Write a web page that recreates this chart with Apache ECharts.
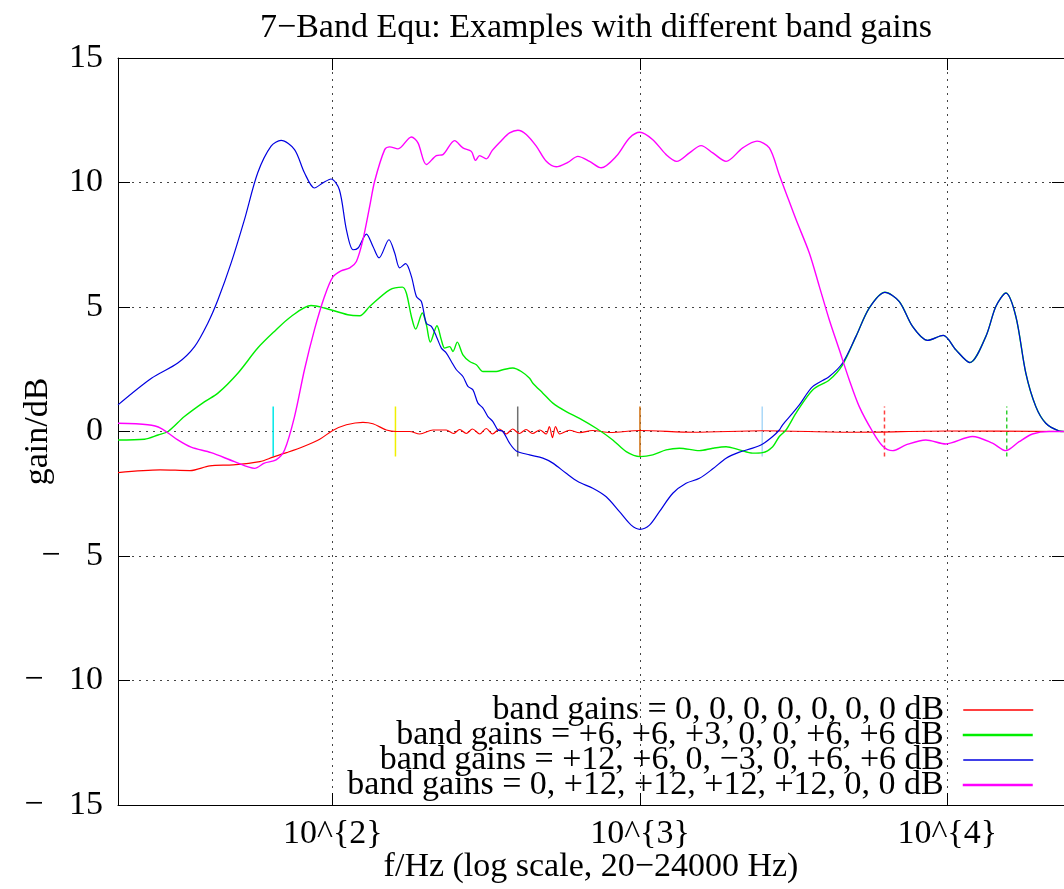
<!DOCTYPE html>
<html>
<head>
<meta charset="utf-8">
<script src="https://cdn.jsdelivr.net/npm/echarts@6/dist/echarts.min.js"></script>
<style>
html,body{margin:0;padding:0;background:#fff;}
#chart{width:1064px;height:889px;}
</style>
</head>
<body>
<div id="chart"></div>
<script>
// ---- data (frequency in Hz, gain in dB) ----
const seriesNames = [
  'band gains = 0, 0, 0, 0, 0, 0, 0 dB',
  'band gains = +6, +6, +3, 0, 0, +6, +6 dB',
  'band gains = +12, +6, 0, \u22123, 0, +6, +6 dB',
  'band gains = 0, +12, +12, +12, +12, 0, 0 dB'
];
const flatGains = [[20,-1.65],[27.4,-1.54],[34.3,-1.57],[39.8,-1.38],[47.4,-1.34],[57.9,-1.21],[63.9,-1.03],[70.7,-0.85],[80,-0.61],[90.7,-0.31],[100,0.04],[110.8,0.27],[125.4,0.37],[135.2,0.31],[149.5,0.06],[161.1,0],[178,0],[191.8,-0.1],[212,0.06],[234,0.06],[247,-0.08],[259,0.08],[272,-0.08],[285,0.1],[301,-0.1],[316,0.12],[331,-0.1],[349,0.1],[367,-0.1],[385,0.1],[405,-0.08],[426,0.08],[447,-0.08],[472,0.06],[495,-0.1],[507,0.2],[519,-0.25],[531,0.2],[548,-0.1],[590,0.05],[636,-0.05],[700,0.04],[800,-0.04],[1000,0.04],[1500,-0.03],[2500,0.03],[5000,-0.03],[10000,0.02],[24000,0]];
const bassGains = [[20,-0.34],[24.4,-0.31],[27,-0.14],[29.1,0],[32.9,0.6],[38.3,1.2],[42.3,1.54],[49.1,2.34],[57,3.35],[64.6,4.02],[73.2,4.62],[85,5.06],[94,4.96],[111.9,4.69],[122.4,4.65],[131.9,5.02],[153.2,5.69],[168.5,5.8],[173.6,5.56],[180.3,4.62],[186.2,4.11],[195.7,4.76],[201.7,4.29],[207.8,3.59],[218.4,4.25],[225.7,3.68],[231.3,3.35],[240.2,3.41],[246.1,3.21],[254.4,3.59],[265.3,3.08],[279,2.81],[293.4,2.68],[308.3,2.41],[324.1,2.41],[340.6,2.41],[357.9,2.48],[385.7,2.55],[410.9,2.41],[437.2,2.14],[448.2,1.94],[483,1.54],[520.6,1.14],[575.4,0.8],[635.7,0.53],[720.5,0.13],[815.6,-0.34],[902,-0.81],[1000,-1.01],[1101,-0.94],[1217,-0.74],[1344,-0.67],[1562,-0.77],[1726,-0.67],[1907,-0.61],[2107,-0.74],[2327,-0.87],[2508,-0.85],[2704,-0.61],[2842,-0.2],[2988,0.06],[3221,0.74],[3647,1.67],[4132,2.07],[4566,2.68],[5048,3.82],[5577,4.96],[6271,5.59],[6982,5.22],[7713,4.22],[8628,3.66],[9705,3.86],[10674,3.28],[11852,2.77],[13362,3.82],[14400,5.02],[15520,5.56],[16728,4.62],[18030,2.34],[19430,1.0],[20940,0.33],[23130,0.02],[24000,0]];
const lowBoostGains = [[20,1.07],[25.7,2.14],[31.3,2.75],[35.5,3.41],[39.2,4.35],[42.3,5.29],[46.7,6.77],[51.6,8.51],[57,10.39],[63,11.46],[67.9,11.69],[75.1,11.32],[80.9,10.39],[87.2,9.78],[92.8,9.98],[98.7,10.14],[105.1,9.71],[110.8,8.1],[116.4,7.3],[120.9,7.37],[128.7,7.93],[135.2,7.43],[141.5,6.97],[152.4,7.7],[159.1,7.17],[165.2,6.57],[172.7,6.74],[180.3,6.23],[187.2,5.42],[194.3,5.22],[201.7,4.35],[209.4,4.22],[217.4,3.82],[225.7,3.35],[234.3,3.15],[243.2,2.81],[252.6,2.48],[265.3,2.21],[275.4,1.81],[286,1.67],[296.9,1.14],[308.3,0.94],[319.9,0.6],[332.1,0.4],[344.8,0.06],[357.9,0],[376.3,-0.47],[395.7,-0.78],[437.2,-0.94],[483,-1.07],[520.6,-1.27],[575.4,-1.68],[627.7,-2.01],[702.3,-2.28],[776.5,-2.62],[857.7,-3.22],[936.3,-3.76],[1000,-3.93],[1074,-3.76],[1157,-3.22],[1279,-2.48],[1413,-2.08],[1562,-1.88],[1726,-1.5],[1907,-1.07],[2107,-0.83],[2327,-0.67],[2508,-0.5],[2704,-0.2],[2842,0.06],[2913,0.27],[3140,0.74],[3302,1.07],[3647,1.8],[4132,2.21],[4566,2.75],[5048,3.82],[5577,4.96],[6271,5.59],[6982,5.22],[7713,4.22],[8628,3.66],[9705,3.86],[10674,3.28],[11852,2.77],[13362,3.82],[14400,5.02],[15520,5.56],[16728,4.62],[18030,2.34],[19430,1.0],[20940,0.33],[23130,0.02],[24000,0]];
const midBoostGains = [[20,0.33],[25,0.27],[27.6,0.13],[31.3,-0.34],[34.6,-0.63],[40.2,-0.85],[47.9,-1.21],[55.7,-1.48],[59.9,-1.27],[65.4,-1.14],[69.7,-0.74],[75.1,0.6],[80.9,2.48],[87.2,4.09],[94,5.42],[100,6.2],[106.4,6.45],[113.6,6.57],[119.4,6.83],[125.4,7.7],[131.9,9.04],[136.9,10.05],[147.6,11.32],[153.2,11.43],[163.1,11.35],[180.3,11.83],[189.4,11.59],[201.7,10.72],[217.4,11.08],[228.4,11.12],[249.3,11.68],[265.3,11.39],[282.5,11.25],[291.7,10.89],[300.6,11.08],[316.1,10.95],[330.6,11.29],[353.7,11.68],[376.3,11.99],[400.5,12.1],[426.5,11.93],[459.7,11.46],[495.5,10.85],[534,10.63],[582.4,10.81],[627.7,11.05],[685.2,10.85],[747.7,10.59],[836.9,11.05],[924.4,11.79],[1000,12.02],[1101,11.72],[1217,11.12],[1317,10.85],[1449,11.19],[1581,11.48],[1726,11.19],[1907,10.85],[2160,11.39],[2405,11.66],[2637,11.39],[2842,10.3],[2988,9.58],[3221,8.51],[3558,7.17],[3835,5.83],[4132,4.49],[4455,3.28],[4801,2.07],[5174,1.0],[5715,0],[6162,-0.58],[6640,-0.77],[7340,-0.54],[8524,-0.34],[9901,-0.5],[12085,-0.2],[14040,-0.47],[15520,-0.77],[17145,-0.41],[18945,-0.1],[21460,0],[24000,0]];
const bandCenters = [64, 160, 400, 1000, 2500, 6250, 15625];
const bandMarkHalf = 1; // dB
const xTickValues = [100, 1000, 10000];
const xTickLabels = ['10^{2}', '10^{3}', '10^{4}'];
const yTicks = [-15, -10, -5, 0, 5, 10, 15];
const yTickLabels = ['\u2212   15', '\u2212   10', '\u2212   5', '0', '5', '10', '15'];

// ---- styles ----
const FONT = 'Liberation Serif';
const FS = 34;
const curveColors = ['#ff0000', '#00ee00', '#0000e0', '#ff00ff'];
const curveWidths = [1.2, 1.4, 1.2, 1.4];
const markColors = ['#00e8e8', '#f0f000', '#707070', '#d07010', '#aad8f8', '#ff4040', '#30d030'];
const markTypes = ['solid', 'solid', 'solid', 'solid', 'solid', [4, 3], [4, 3]];

const chart = echarts.init(document.getElementById('chart'), null, {renderer: 'canvas'});

const curveData = [flatGains, bassGains, lowBoostGains, midBoostGains];

const markSeries = bandCenters.map((f, i) => ({
  type: 'line', name: 'mark' + i, symbol: 'none', silent: true,
  data: [[f, -bandMarkHalf], [f, bandMarkHalf]],
  lineStyle: {color: markColors[i], width: 1.5, type: markTypes[i]},
  z: 1
}));

const curveSeries = curveData.map((d, i) => ({
  type: 'line', name: seriesNames[i], symbol: 'none', smooth: 0.3,
  data: d, color: curveColors[i],
  lineStyle: {color: curveColors[i], width: curveWidths[i]},
  z: 2 + i
}));

const legendCenters = [706, 731, 756, 781];
const legends = seriesNames.map((n, i) => ({
  data: [n], orient: 'vertical', align: 'right', right: 30,
  top: legendCenters[i] - 13, itemWidth: 70, itemHeight: 26, padding: 0,
  selectedMode: false,
  itemStyle: {opacity: 0, borderWidth: 0},
  lineStyle: {width: i % 2 ? 2.5 : 1.5},
  textStyle: {fontFamily: FONT, fontSize: FS, color: '#000', lineHeight: 26, padding: [0, 14, 0, 0]}
}));

const xLabelFmt = v => {
  const k = xTickValues.findIndex(t => Math.abs(t - v) / t < 1e-6);
  return k >= 0 ? xTickLabels[k] : '';
};
const yLabelFmt = v => {
  const k = yTicks.indexOf(v);
  return k >= 0 ? yTickLabels[k] : '';
};

const baseX = {
  type: 'log', logBase: 10, min: 20, max: 24000,
  axisLine: {show: true, onZero: false, lineStyle: {color: '#000', width: 1}},
  axisTick: {show: true, inside: true, length: 12, lineStyle: {color: '#000'}},
  minorTick: {show: false}
};
const baseY = {
  type: 'value', min: -15, max: 15, interval: 5,
  axisLine: {show: true, onZero: false, lineStyle: {color: '#000', width: 1}},
  axisTick: {show: true, inside: true, length: 12, lineStyle: {color: '#000'}}
};

chart.setOption({
  animation: false,
  backgroundColor: '#fff',
  title: {
    text: '7\u2212Band Equ: Examples with different band gains',
    left: 591, textAlign: 'center', top: 6,
    textStyle: {fontFamily: FONT, fontSize: FS, fontWeight: 'normal', color: '#000'}
  },
  legend: legends,
  grid: {left: 118, right: 0, top: 58, bottom: 84, containLabel: false, outerBoundsMode: 'none'},
  xAxis: [
    Object.assign({}, baseX, {
      position: 'bottom',
      name: 'f/Hz (log scale, 20\u221224000 Hz)', nameLocation: 'middle', nameGap: 45,
      nameMoveOverlap: false,
      nameTextStyle: {fontFamily: FONT, fontSize: FS, color: '#000'},
      axisLabel: {show: true, showMinLabel: false, showMaxLabel: false, margin: 12,
        fontFamily: FONT, fontSize: FS, color: '#000', formatter: xLabelFmt},
      splitLine: {show: true, showMinLine: false, showMaxLine: false,
        lineStyle: {color: '#444', width: 1, type: [2, 5]}}
    }),
    Object.assign({}, baseX, {
      position: 'top', axisLabel: {show: false}, splitLine: {show: false}
    })
  ],
  yAxis: [
    Object.assign({}, baseY, {
      position: 'left',
      name: 'gain/dB', nameLocation: 'middle', nameGap: 63, nameRotate: 90,
      nameMoveOverlap: false,
      nameTextStyle: {fontFamily: FONT, fontSize: FS, color: '#000'},
      axisLabel: {show: true, margin: 15, fontFamily: FONT, fontSize: FS, color: '#000',
        formatter: yLabelFmt},
      splitLine: {show: true, showMinLine: false, showMaxLine: false,
        lineStyle: {color: '#444', width: 1, type: [2, 5]}}
    }),
    Object.assign({}, baseY, {
      position: 'right', axisLabel: {show: false}, splitLine: {show: false}
    })
  ],
  series: markSeries.concat(curveSeries)
});
</script>
</body>
</html>
